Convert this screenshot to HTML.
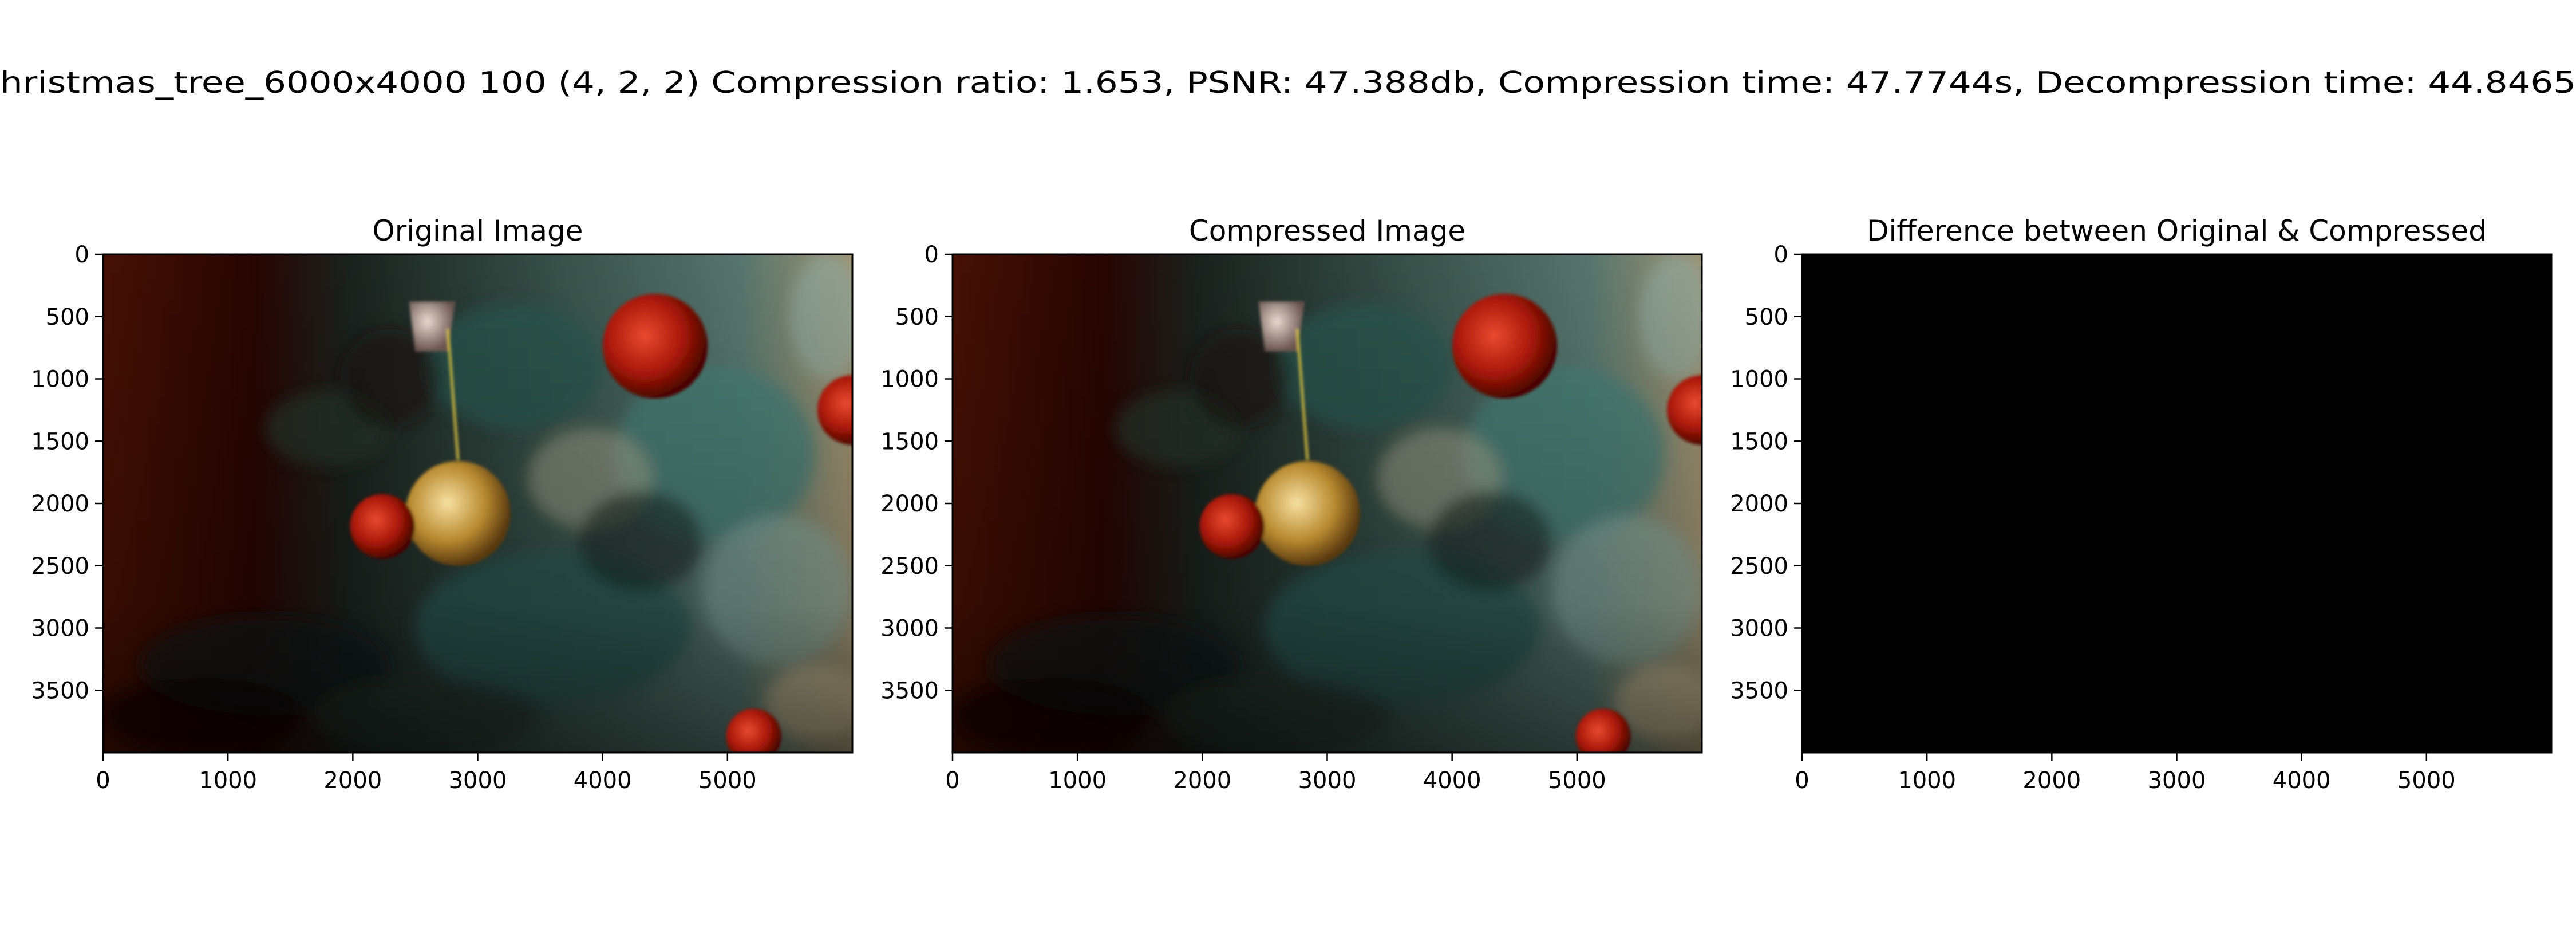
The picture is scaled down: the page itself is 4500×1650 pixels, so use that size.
<!DOCTYPE html>
<html><head><meta charset="utf-8"><style>
html,body{margin:0;padding:0;background:#fff;}
svg{display:block;font-family:"DejaVu Sans","Liberation Sans",sans-serif;}
</style></head><body>
<svg id="fig" width="4500" height="1650" viewBox="0 0 4500 1650">
<defs>
<linearGradient id="bg" x1="0" y1="0" x2="1" y2="0">
<stop offset="0" stop-color="#4a1206"/><stop offset="0.2" stop-color="#2a0603"/><stop offset="0.33" stop-color="#1c2420"/><stop offset="0.6" stop-color="#3a544c"/><stop offset="0.85" stop-color="#5c7c74"/><stop offset="1" stop-color="#a89a78"/>
</linearGradient>
<linearGradient id="bgv" x1="0" y1="0" x2="0" y2="1">
<stop offset="0" stop-color="#000" stop-opacity="0.05"/><stop offset="0.7" stop-color="#000" stop-opacity="0.25"/><stop offset="1" stop-color="#000" stop-opacity="0.55"/>
</linearGradient>
<radialGradient id="redball" cx="0.4" cy="0.4" r="0.6"><stop offset="0" stop-color="#e84a30"/><stop offset="0.6" stop-color="#a81808"/><stop offset="1" stop-color="#4a0502"/></radialGradient>
<radialGradient id="goldball" cx="0.4" cy="0.4" r="0.6"><stop offset="0" stop-color="#f6e0a0"/><stop offset="0.6" stop-color="#b88a30"/><stop offset="1" stop-color="#5a3a10"/></radialGradient>
<radialGradient id="bell" cx="0.4" cy="0.4" r="0.6"><stop offset="0" stop-color="#e8d8d0"/><stop offset="1" stop-color="#6a5550"/></radialGradient>
<filter id="blur" x="-20%" y="-20%" width="140%" height="140%"><feGaussianBlur stdDeviation="60"/></filter>
<filter id="blur2"><feGaussianBlur stdDeviation="12"/></filter>
<clipPath id="clipImg"><rect x="0" y="0" width="6000" height="4000"/></clipPath>
</defs>
<text x="0" y="162" font-size="52" textLength="4500" lengthAdjust="spacingAndGlyphs">hristmas_tree_6000x4000 100 (4, 2, 2) Compression ratio: 1.653, PSNR: 47.388db, Compression time: 47.7744s, Decompression time: 44.8465</text>
<g id="panels"></g>
</svg>
<script>
const panelTitles = ["Original Image", "Compressed Image", "Difference between Original & Compressed"];
const panelLefts = [180, 1664, 3148];
const xTicks = [0, 1000, 2000, 3000, 4000, 5000];
const yTicks = [0, 500, 1000, 1500, 2000, 2500, 3000, 3500];
const imgW = 6000, imgH = 4000;
// blobs: [x, y, rx, ry, color, opacity]
const tealBlobs = [[3300,900,700,500,"#2d5a52",0.8],[4900,1600,800,700,"#4a847a",0.8],[3600,3000,1100,600,"#2a5a54",0.8],[1800,1400,500,300,"#26382c",0.7],[5400,2700,600,600,"#8fb0a8",0.6],[3900,1800,500,400,"#b8b09a",0.5],[1300,3300,1000,400,"#141e18",0.7],[2600,3700,900,300,"#2a342e",0.6],[5700,3600,400,300,"#d8c8a0",0.6],[800,3700,800,300,"#100404",0.7],[5800,500,300,500,"#98b4ac",0.6],[2300,1000,400,400,"#1c1412",0.6],[4300,2300,500,400,"#1a2a26",0.6]];
const ornaments = [[4421,737,420,"url(#redball)"],[2842,2079,420,"url(#goldball)"],[2237,2184,260,"url(#redball)"],[5210,3868,220,"url(#redball)"],[6000,1250,280,"url(#redball)"]];
const NS = "http://www.w3.org/2000/svg";
const panels = document.getElementById("panels");
const axTop = 444, axH = 870, axW = 1309;
function mk(tag, attrs, parent){const e=document.createElementNS(NS,tag);for(const k in attrs)e.setAttribute(k,attrs[k]);parent.appendChild(e);return e;}
function sx(v, left){return left + v/imgW*axW;}
function sy(v){return axTop + v/imgH*axH;}
panelTitles.forEach((t,i)=>{
  const left = panelLefts[i];
  const g = mk("g",{},panels);
  
  
  const title = mk("text",{x:left+axW/2,y:420,"font-size":50,"text-anchor":"middle"},g);
  title.textContent = t;
  
  
  const img = mk("g",{transform:`translate(${left},${axTop}) scale(${axW/imgW},${axH/imgH})`,"clip-path":"url(#clipImg)"},g);
  
  
  if(i<2){
    mk("rect",{x:0,y:0,width:imgW,height:imgH,fill:"url(#bg)"},img);
    const bl = mk("g",{filter:"url(#blur)"},img);
    tealBlobs.forEach(b=>mk("ellipse",{cx:b[0],cy:b[1],rx:b[2],ry:b[3],fill:b[4],opacity:b[5]},bl));
    mk("rect",{x:0,y:0,width:imgW,height:imgH,fill:"url(#bgv)"},img);
    const og = mk("g",{filter:"url(#blur2)"},img);
    ornaments.forEach(o=>mk("circle",{cx:o[0],cy:o[1],r:o[2],fill:o[3]},og));
    mk("path",{d:"M2450 380 L2820 380 L2760 780 L2500 780 Z",fill:"url(#bell)"},og);
    mk("line",{x1:2842,y1:1650,x2:2760,y2:600,stroke:"#d8c040","stroke-width":20},og);
  } else {
    mk("rect",{x:0,y:0,width:imgW,height:imgH,fill:"#000"},img);
  }
  mk("rect",{x:left,y:axTop,width:axW,height:axH,fill:"none",stroke:"#000","stroke-width":3},g);
  xTicks.forEach(v=>{
    const x = sx(v,left);
    mk("line",{x1:x,y1:axTop+axH,x2:x,y2:axTop+axH+14,stroke:"#000","stroke-width":2.5},g);
    const tx = mk("text",{x:x,y:1376,"font-size":40,"text-anchor":"middle"},g);
    tx.textContent = v;
    
    
  });
  yTicks.forEach(v=>{
    const y = sy(v);
    mk("line",{x1:left,y1:y,x2:left-14,y2:y,stroke:"#000","stroke-width":2.5},g);
    const ty = mk("text",{x:left-24,y:y+14,"font-size":40,"text-anchor":"end"},g);
    ty.textContent = v;
    
    
  });
});
</script>
</body></html>
